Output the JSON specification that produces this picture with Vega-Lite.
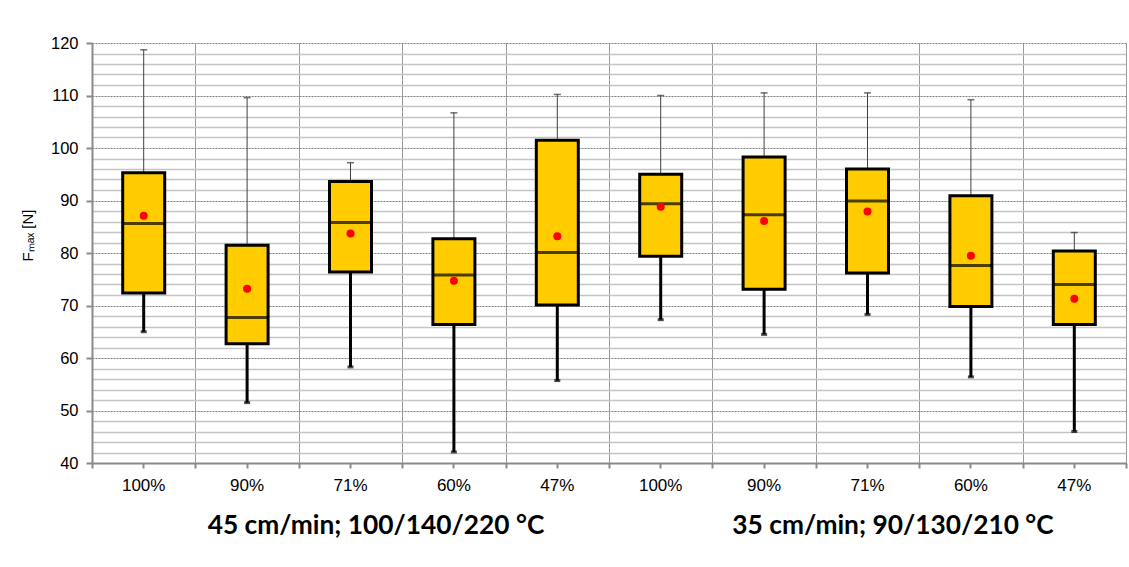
{
  "$schema": "https://vega.github.io/schema/vega-lite/v6.json",
  "width": 1034,
  "height": 420,
  "autosize": "none",
  "padding": {"left": 92, "top": 43, "right": 3, "bottom": 104},
  "background": "white",
  "config": {"view": {"stroke": null}, "font": "Liberation Sans"},
  "data": {
    "values": [
      {"id": "A 100%", "group": "45 cm/min; 100/140/220 °C", "low": 65.0, "q1": 72.4, "median": 85.6, "q3": 95.3, "high": 118.7, "mean": 87.1},
      {"id": "A 90%", "group": "45 cm/min; 100/140/220 °C", "low": 51.5, "q1": 62.7, "median": 67.7, "q3": 81.5, "high": 109.6, "mean": 73.2},
      {"id": "A 71%", "group": "45 cm/min; 100/140/220 °C", "low": 58.3, "q1": 76.4, "median": 85.8, "q3": 93.6, "high": 97.2, "mean": 83.7},
      {"id": "A 60%", "group": "45 cm/min; 100/140/220 °C", "low": 42.1, "q1": 66.4, "median": 75.8, "q3": 82.7, "high": 106.7, "mean": 74.7},
      {"id": "A 47%", "group": "45 cm/min; 100/140/220 °C", "low": 55.7, "q1": 70.1, "median": 80.1, "q3": 101.5, "high": 110.2, "mean": 83.2},
      {"id": "B 100%", "group": "35 cm/min; 90/130/210 °C", "low": 67.3, "q1": 79.4, "median": 89.4, "q3": 95.0, "high": 110.0, "mean": 88.8},
      {"id": "B 90%", "group": "35 cm/min; 90/130/210 °C", "low": 64.5, "q1": 73.1, "median": 87.3, "q3": 98.3, "high": 110.5, "mean": 86.1},
      {"id": "B 71%", "group": "35 cm/min; 90/130/210 °C", "low": 68.3, "q1": 76.2, "median": 89.9, "q3": 96.0, "high": 110.5, "mean": 87.9},
      {"id": "B 60%", "group": "35 cm/min; 90/130/210 °C", "low": 56.4, "q1": 69.8, "median": 77.6, "q3": 90.9, "high": 109.2, "mean": 79.5},
      {"id": "B 47%", "group": "35 cm/min; 90/130/210 °C", "low": 46.0, "q1": 66.4, "median": 74.0, "q3": 80.4, "high": 83.9, "mean": 71.3}
    ]
  },
  "resolve": {"scale": {"x": "independent"}},
  "layer": [
    {
      "resolve": {"axis": {"x": "independent", "y": "independent"}},
      "layer": [
        {
          "mark": {"type": "rule", "color": "#404040", "strokeWidth": 1},
          "encoding": {
            "x": {"field": "id", "type": "nominal", "sort": null,
                  "scale": {"paddingInner": 0, "paddingOuter": 0},
                  "axis": {"orient": "bottom", "tickBand": "extent", "grid": true, "gridColor": "#9a9a9a", "gridWidth": 1,
                           "labels": false, "ticks": true, "tickSize": 5, "tickColor": "#8a8a8a", "tickWidth": 2,
                           "domain": false, "title": null}},
            "y": {"field": "q3", "type": "quantitative",
                  "scale": {"domain": [40, 120], "nice": false, "zero": false},
                  "axis": {"orient": "left", "values": [42,44,46,48,52,54,56,58,62,64,66,68,72,74,76,78,82,84,86,88,92,94,96,98,102,104,106,108,112,114,116,118],
                           "grid": true, "gridColor": "#c4c4c4", "gridWidth": 1.3, "labels": false, "ticks": false, "domain": false, "title": null}},
            "y2": {"field": "high"}
          }
        },
        {
          "mark": {"type": "tick", "color": "#303030", "thickness": 1.5, "size": 7},
          "encoding": {
            "x": {"field": "id", "type": "nominal", "sort": null, "axis": null},
            "y": {"field": "high", "type": "quantitative", "axis": null}
          }
        },
        {
          "mark": {"type": "rule", "color": "black", "strokeWidth": 3},
          "encoding": {
            "x": {"field": "id", "type": "nominal", "sort": null, "axis": null},
            "y": {"field": "low", "type": "quantitative", "axis": null},
            "y2": {"field": "q1"}
          }
        },
        {
          "mark": {"type": "tick", "color": "black", "thickness": 3, "size": 6},
          "encoding": {
            "x": {"field": "id", "type": "nominal", "sort": null, "axis": null},
            "y": {"field": "low", "type": "quantitative", "axis": null}
          }
        },
        {
          "mark": {"type": "bar", "fill": "#FFCC00", "stroke": "black", "strokeWidth": 3, "size": 42},
          "encoding": {
            "x": {"field": "id", "type": "nominal", "sort": null,
                  "axis": {"orient": "bottom", "labelExpr": "substring(datum.value, 2)", "labelFontSize": 17, "labelColor": "black",
                           "labelPadding": 9, "labelAngle": 0, "ticks": true, "tickSize": 5, "tickColor": "#8a8a8a", "tickWidth": 2,
                           "domain": true, "domainColor": "#8a8a8a", "domainWidth": 2, "grid": false, "title": null}},
            "y": {"field": "q1", "type": "quantitative",
                  "axis": {"orient": "left", "values": [40,50,60,70,80,90,100,110,120], "grid": true, "gridColor": "#808080", "gridDash": [2, 1], "gridWidth": 1,
                           "domain": true, "domainColor": "#8a8a8a", "domainWidth": 2, "ticks": true, "tickSize": 6, "tickColor": "#8a8a8a", "tickWidth": 2,
                           "labelFontSize": 16.5, "labelColor": "black", "labelPadding": 8,
                           "title": "Fₘₐₓ [N]", "titleFontSize": 15, "titleFontWeight": "normal", "titleColor": "black",
                           "titleX": -60, "titleY": 192, "titleAngle": -90, "titleAlign": "center", "titleBaseline": "alphabetic"}},
            "y2": {"field": "q3"}
          }
        },
        {
          "mark": {"type": "tick", "color": "black", "thickness": 3, "size": 42},
          "encoding": {
            "x": {"field": "id", "type": "nominal", "sort": null, "axis": null},
            "y": {"field": "median", "type": "quantitative", "axis": null}
          }
        },
        {
          "mark": {"type": "point", "filled": true, "shape": "circle", "color": "#FF0000", "opacity": 1, "size": 64},
          "encoding": {
            "x": {"field": "id", "type": "nominal", "sort": null, "axis": null},
            "y": {"field": "mean", "type": "quantitative", "axis": null}
          }
        }
      ]
    },
    {
      "mark": {"type": "point", "opacity": 0},
      "encoding": {
        "x": {"field": "group", "type": "nominal", "sort": null,
              "scale": {"paddingInner": 0, "paddingOuter": 0},
              "axis": {"orient": "bottom", "labelAngle": 0, "labelFont": "Lato", "labelFontWeight": "bold", "labelFontSize": 26.3, "labelLimit": 1000,
                       "labelColor": "black", "labelPadding": 49, "labelOffset": 25, "ticks": false, "domain": false, "grid": false, "title": null}}
      }
    }
  ]
}
